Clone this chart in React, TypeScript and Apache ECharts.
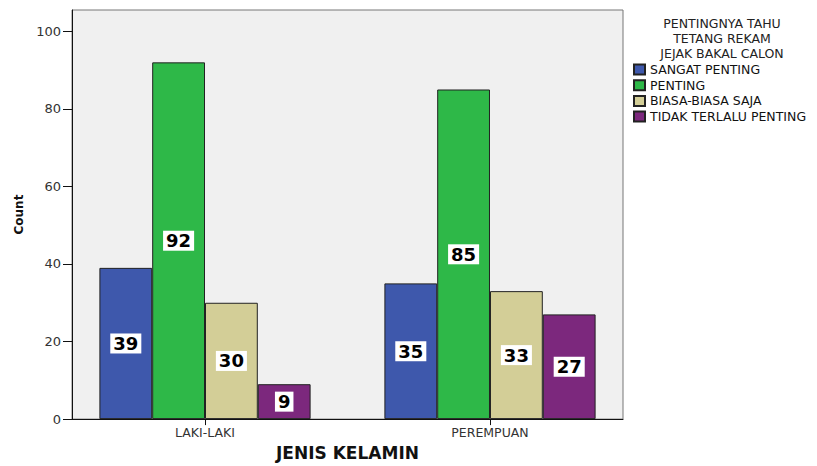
import React, { useEffect, useRef } from "react";
import * as echarts from "echarts";

const categories = ["LAKI-LAKI", "PEREMPUAN"];
const seriesNames = ["SANGAT PENTING", "PENTING", "BIASA-BIASA SAJA", "TIDAK TERLALU PENTING"];
const sangatPenting = [39, 35];
const penting = [92, 85];
const biasaSaja = [30, 33];
const tidakTerlaluPenting = [9, 27];
const yTicks = [0, 20, 40, 60, 80, 100];
const legendTitle = "PENTINGNYA TAHU\nTETANG REKAM\nJEJAK BAKAL CALON";

const colors = ["#3E58AC", "#2EB848", "#D3CE97", "#7C287D"];
const FONT = "DejaVu Sans";

export default function App() {
  const ref = useRef<HTMLDivElement>(null);
  useEffect(() => {
    document.body.style.margin = "0";
    if (!ref.current) return;
    const chart = echarts.init(ref.current, null, { renderer: "svg" });
    const allValues = [sangatPenting, penting, biasaSaja, tidakTerlaluPenting];
    const series = allValues.map((vals, i) => ({
      name: seriesNames[i],
      type: "bar",
      data: vals.map((v, k) => [k, v]),
      barWidth: 52.8,
      barGap: "0%",
      itemStyle: { color: colors[i], borderColor: "#222", borderWidth: 1 },
      label: {
        show: true,
        position: "inside",
        formatter: (p: any) => String(p.value[1]),
        backgroundColor: "#ffffff",
        padding: [1, 3],
        color: "#000",
        fontWeight: "bold",
        fontSize: 18,
        lineHeight: 18,
        fontFamily: FONT,
      },
    }));
    chart.setOption({
      animation: false,
      backgroundColor: "#ffffff",
      grid: {
        left: 72,
        right: 194,
        top: 10,
        bottom: 41,
        show: true,
        backgroundColor: "#f0f0f0",
        borderColor: "#777",
        borderWidth: 1,
      },
      xAxis: {
        type: "value",
        min: -0.46667,
        max: 1.46667,
        splitLine: { show: false },
        axisLine: { show: true, onZero: false, lineStyle: { color: "#111", width: 1 } },
        axisTick: { show: true, length: 6, customValues: [0, 1], lineStyle: { color: "#111" } },
        axisLabel: {
          customValues: [0, 1],
          formatter: (v: number) => categories[Math.round(v)] ?? "",
          margin: 7,
          fontSize: 12.5,
          color: "#333",
          fontFamily: FONT,
        },
        name: "JENIS KELAMIN",
        nameLocation: "middle",
        nameGap: 24,
        nameTextStyle: { fontWeight: "bold", fontSize: 17, color: "#111", fontFamily: FONT },
      },
      yAxis: {
        type: "value",
        min: 0,
        max: 105.5,
        splitLine: { show: false },
        axisLine: { show: true, onZero: false, lineStyle: { color: "#111", width: 1 } },
        axisTick: { show: true, length: 9, customValues: yTicks, lineStyle: { color: "#111" } },
        axisLabel: {
          customValues: yTicks,
          margin: 11,
          fontSize: 13,
          color: "#333",
          fontFamily: FONT,
        },
        name: "Count",
        nameLocation: "middle",
        nameRotate: 90,
        nameGap: 43,
        nameTextStyle: { fontWeight: "bold", fontSize: 12, color: "#111", fontFamily: FONT },
      },
      legend: {
        orient: "vertical",
        left: 633,
        top: 63,
        padding: 0,
        itemWidth: 11,
        itemHeight: 10,
        itemGap: 2.7,
        icon: "rect",
        data: seriesNames,
        textStyle: { fontSize: 12.5, lineHeight: 10, color: "#111", fontFamily: FONT },
      },
      graphic: [
        {
          type: "text",
          x: 722,
          y: 16,
          style: {
            text: legendTitle,
            textAlign: "center",
            textVerticalAlign: "top",
            fontSize: 12.5,
            lineHeight: 14.8,
            fontFamily: FONT,
            fill: "#222",
          },
        },
      ],
      series,
    });
    return () => chart.dispose();
  }, []);
  return <div ref={ref} style={{ width: 817, height: 466 }} />;
}
